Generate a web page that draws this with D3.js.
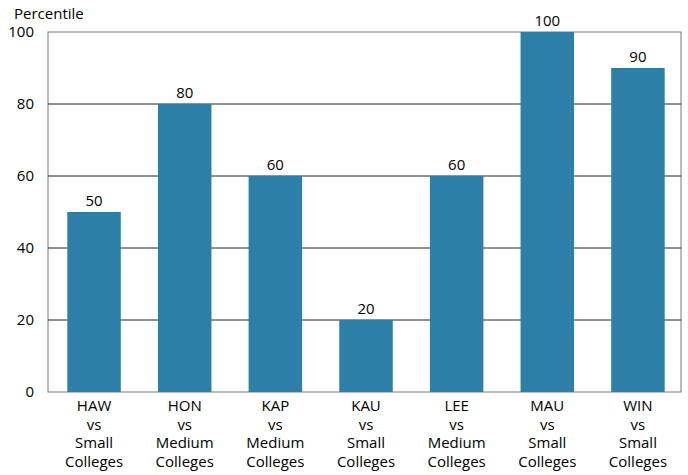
<!DOCTYPE html>
<html>
<head>
<meta charset="utf-8">
<script src="https://cdn.jsdelivr.net/npm/d3@7"></script>
<style>
  html, body { margin: 0; padding: 0; background: #fff; }
  svg text { font-family: "Open Sans", "Noto Sans", sans-serif; fill: #000; }
</style>
</head>
<body>
<svg id="chart" width="688" height="475"></svg>
<script>
// Campus codes and their comparison groups
const campuses = ["HAW", "HON", "KAP", "KAU", "LEE", "MAU", "WIN"];
const peerGroups = ["Small", "Medium", "Medium", "Small", "Medium", "Small", "Small"];
// Percentile rank of each campus
const percentiles = [50, 80, 60, 20, 60, 100, 90];
const yTicks = [0, 20, 40, 60, 80, 100];

const margin = { top: 32, right: 7, bottom: 83, left: 48 };
const width = 688, height = 475;
const fontSize = 15;
const lineStep = 18.6;
const svg = d3.select("#chart");

const x = d3.scaleBand()
  .domain(campuses)
  .range([margin.left + 3, width - margin.right])
  .paddingInner(0.41)
  .paddingOuter(0.18);

const y = d3.scaleLinear()
  .domain([0, 100])
  .range([height - margin.bottom, margin.top]);

// Plot frame
svg.append("rect")
  .attr("x", margin.left)
  .attr("y", margin.top)
  .attr("width", width - margin.right - margin.left)
  .attr("height", height - margin.bottom - margin.top)
  .attr("fill", "none")
  .attr("stroke", "#777")
  .attr("stroke-width", 1);

// Horizontal gridlines
svg.append("g")
  .selectAll("line")
  .data(yTicks.filter(d => d > 0 && d < 100))
  .join("line")
  .attr("x1", margin.left)
  .attr("x2", width - margin.right)
  .attr("y1", d => y(d))
  .attr("y2", d => y(d))
  .attr("stroke", "#222")
  .attr("stroke-width", 1);

// Bars
svg.append("g")
  .selectAll("rect")
  .data(percentiles)
  .join("rect")
  .attr("x", (d, i) => x(campuses[i]))
  .attr("width", x.bandwidth())
  .attr("y", d => y(d))
  .attr("height", d => y(0) - y(d))
  .attr("fill", "#2b7fa8");

// Value labels above bars
svg.append("g")
  .selectAll("text")
  .data(percentiles)
  .join("text")
  .attr("x", (d, i) => x(campuses[i]) + x.bandwidth() / 2)
  .attr("y", d => y(d) - 6)
  .attr("text-anchor", "middle")
  .attr("font-size", fontSize)
  .text(d => d);

// Y axis
const yAxis = d3.axisLeft(y).tickValues(yTicks).tickSize(0).tickPadding(14);
const yg = svg.append("g")
  .attr("transform", `translate(${margin.left},0)`)
  .call(yAxis);
yg.select(".domain").remove();
yg.selectAll("text").attr("font-size", fontSize).attr("fill", "#000")
  .style("font-family", '"Open Sans", "Noto Sans", sans-serif');

// Y axis title
svg.append("text")
  .attr("x", 14)
  .attr("y", 19)
  .attr("font-size", fontSize)
  .text("Percentile");

// Category labels, four lines under each bar
const xg = svg.append("g")
  .attr("transform", `translate(0,${y(0)})`)
  .call(d3.axisBottom(x).tickSize(0).tickFormat(""));
xg.select(".domain").remove();
xg.selectAll(".tick").each(function(d, i) {
  const t = d3.select(this).append("text")
    .attr("text-anchor", "middle")
    .attr("font-size", fontSize)
    .attr("fill", "#000");
  [d, "vs", peerGroups[i], "Colleges"].forEach((line, k) => {
    t.append("tspan").attr("x", 0).attr("y", 19 + k * lineStep).text(line);
  });
});
</script>
</body>
</html>
